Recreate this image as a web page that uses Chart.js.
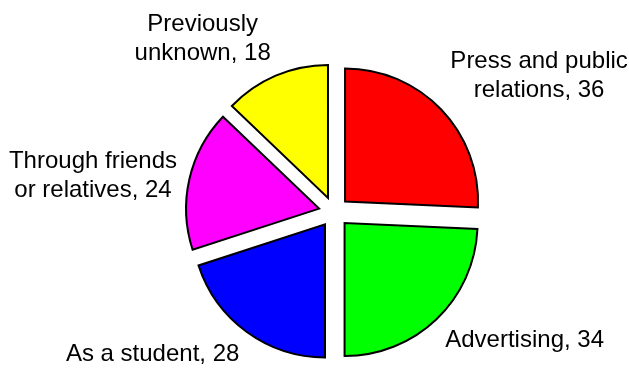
<!DOCTYPE html>
<html>
<head>
<meta charset="utf-8">
<script src="https://cdn.jsdelivr.net/npm/chart.js@4.4.1/dist/chart.umd.min.js"></script>
<style>
  html, body { margin: 0; padding: 0; background: #fff; }
  #wrap { width: 629px; height: 370px; }
</style>
</head>
<body>
<div id="wrap"><canvas id="pieChart" width="629" height="370"></canvas></div>
<script>
var categories = ['Press and public relations', 'Advertising', 'As a student', 'Through friends or relatives', 'Previously unknown'];
var counts = [36, 34, 28, 24, 18];
var sliceColors = ['#ff0000', '#00ff00', '#0000ff', '#ff00ff', '#ffff00'];

var EXPLODE = 15.3;   // px each slice is pulled out along its bisector
var LABEL_GAP = 28;   // px from the rim to the label box
var FONT_SIZE = 24;
var LINE_H = 29;
var WRAP_W = 184;

// pull slices apart without the radius tweak chart.js applies with `offset`
var explodePlugin = {
  id: 'explode',
  afterDatasetsUpdate: function(chart) {
    chart.getDatasetMeta(0).data.forEach(function(arc) {
      var mid = (arc.startAngle + arc.endAngle) / 2;
      arc.x += Math.cos(mid) * EXPLODE;
      arc.y += Math.sin(mid) * EXPLODE;
    });
  }
};

function wrapText(ctx, text, maxW) {
  var words = text.split(' ');
  var lines = [];
  var cur = '';
  words.forEach(function(w) {
    var test = cur ? cur + ' ' + w : w;
    if (cur && ctx.measureText(test).width > maxW) {
      lines.push(cur);
      cur = w;
    } else {
      cur = test;
    }
  });
  lines.push(cur);
  return lines;
}

var labelPlugin = {
  id: 'outsideLabels',
  afterDatasetsDraw: function(chart) {
    var ctx = chart.ctx;
    var arcs = chart.getDatasetMeta(0).data;
    ctx.save();
    ctx.font = FONT_SIZE + 'px "Liberation Sans", Arial, sans-serif';
    ctx.fillStyle = '#000';
    ctx.textAlign = 'center';
    ctx.textBaseline = 'alphabetic';
    var cap = FONT_SIZE * 0.7;
    var desc = 4;
    arcs.forEach(function(arc, i) {
      var mid = (arc.startAngle + arc.endAngle) / 2;
      var dx = Math.cos(mid), dy = Math.sin(mid);
      var cx = arc.x - dx * EXPLODE, cy = arc.y - dy * EXPLODE;
      var d = arc.outerRadius + LABEL_GAP;
      var px = cx + dx * d, py = cy + dy * d;

      var lines = wrapText(ctx, categories[i] + ', ' + counts[i], WRAP_W);
      var w = 0;
      lines.forEach(function(l) { w = Math.max(w, ctx.measureText(l).width); });
      var h = cap + desc + (lines.length - 1) * LINE_H;

      var left = dx >= 0 ? px : px - w;
      var top;
      if (dy > 0.5) top = py + 2;
      else if (dy < -0.5) top = py - h;
      else top = py - h / 2;

      lines.forEach(function(l, k) {
        ctx.fillText(l, left + w / 2, top + cap + k * LINE_H);
      });
    });
    ctx.restore();
  }
};

new Chart(document.getElementById('pieChart'), {
  type: 'pie',
  data: {
    labels: categories,
    datasets: [{
      data: counts,
      backgroundColor: sliceColors,
      borderColor: '#000',
      borderWidth: 2,
      borderJoinStyle: 'miter',
      hoverOffset: 0
    }]
  },
  options: {
    responsive: false,
    animation: false,
    radius: 133,
    layout: { padding: { left: 39, right: 0, top: 54, bottom: 0 } },
    plugins: {
      legend: { display: false },
      tooltip: { enabled: false }
    },
    events: []
  },
  plugins: [explodePlugin, labelPlugin]
});
</script>
</body>
</html>
